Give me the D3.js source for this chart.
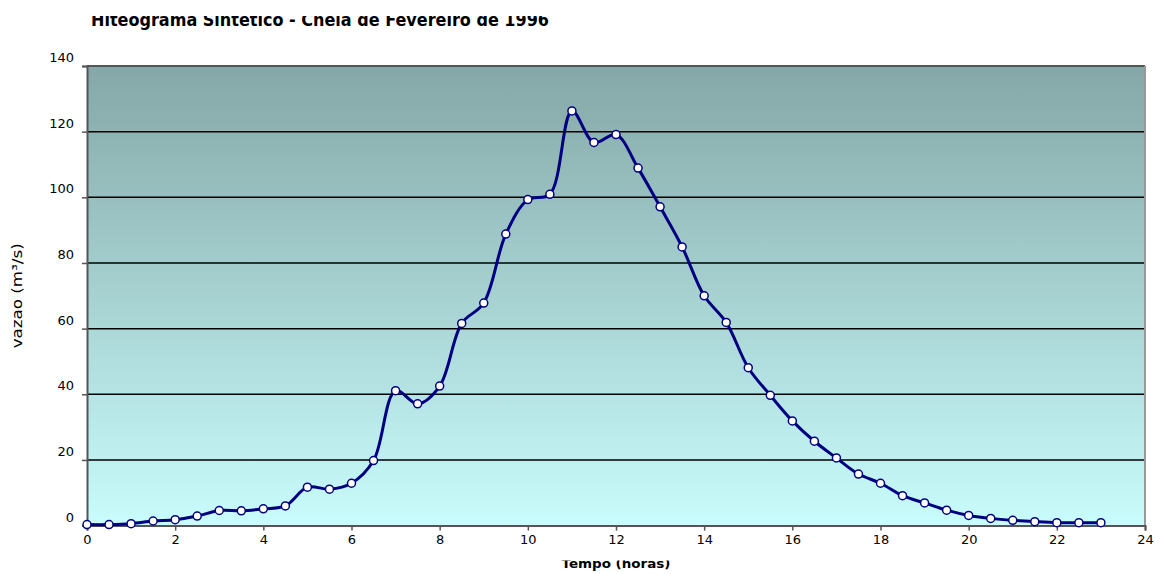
<!DOCTYPE html>
<html><head><meta charset="utf-8">
<script src="https://cdn.jsdelivr.net/npm/d3@7/dist/d3.min.js"></script>
<style>body{margin:0;background:#fff;}svg{display:block;font-family:"DejaVu Sans",Verdana,sans-serif;}</style>
</head><body>
<svg id="c" width="1155" height="574"></svg>
<script>
const times = [0,0.5,1,1.5,2,2.5,3,3.5,4,4.5,5,5.5,6,6.5,7,7.5,8,8.5,9,9.5,10,10.5,11,11.5,12,12.5,13,13.5,14,14.5,15,15.5,16,16.5,17,17.5,18,18.5,19,19.5,20,20.5,21,21.5,22,22.5,23];
const vazao = [0.3,0.3,0.6,1.4,1.8,2.9,4.6,4.5,5.1,6.0,11.7,11.1,12.9,19.8,41.1,37.1,42.5,61.6,67.8,88.8,99.3,100.9,126.3,116.7,119.1,108.9,97.1,84.9,70.0,61.9,48.1,39.7,31.9,25.7,20.6,15.7,12.9,9.1,6.9,4.7,3.1,2.2,1.6,1.2,0.9,0.9,0.9];
const xTicks = [0,2,4,6,8,10,12,14,16,18,20,22,24];
const yTicks = [0,20,40,60,80,100,120,140];
const title = "Hiteograma Sintetico - Cheia de Fevereiro de 1996";
const xTitle = "Tempo (horas)";
const yTitle = "vazao (m³/s)";

const svg = d3.select("#c");
const L=87, R=1145, T=66, B=525.6;
const x = d3.scaleLinear().domain([0,24]).range([L,R]);
const y = d3.scaleLinear().domain([0,140]).range([B,T]);

const defs = svg.append("defs");
const g = defs.append("linearGradient").attr("id","bg").attr("x1",0).attr("y1",0).attr("x2",0).attr("y2",1);
g.append("stop").attr("offset","0%").attr("stop-color","#85a7a7");
g.append("stop").attr("offset","100%").attr("stop-color","#c9fcfc");
defs.append("clipPath").attr("id","ct").append("rect").attr("x",0).attr("y",16).attr("width",1155).attr("height",40);
defs.append("clipPath").attr("id","cx").append("rect").attr("x",0).attr("y",560.5).attr("width",1155).attr("height",20);

svg.append("rect").attr("x",L).attr("y",T).attr("width",R-L).attr("height",B-T).attr("fill","url(#bg)");

// gridlines
svg.append("g").selectAll("line").data(yTicks.filter(d=>d>0&&d<140)).join("line")
  .attr("x1",L).attr("x2",R).attr("y1",d=>y(d)).attr("y2",d=>y(d))
  .attr("stroke","#000").attr("stroke-width",1.5);

// border top/right
svg.append("line").attr("x1",L).attr("x2",R).attr("y1",T).attr("y2",T).attr("stroke","#555").attr("stroke-width",2);
svg.append("line").attr("x1",R).attr("x2",R).attr("y1",T).attr("y2",B).attr("stroke","#999").attr("stroke-width",2);

// axes
const xa = svg.append("g").attr("transform",`translate(0,${B})`)
  .call(d3.axisBottom(x).tickValues(xTicks).tickSize(5).tickPadding(3).tickFormat(d3.format("d")));
const ya = svg.append("g").attr("transform",`translate(${L},0)`)
  .call(d3.axisLeft(y).tickValues(yTicks).tickSize(5).tickPadding(8).tickFormat(d3.format("d")));
[xa,ya].forEach(a=>{
  a.select(".domain").attr("stroke","#555").attr("stroke-width",2);
  a.selectAll(".tick line").attr("stroke","#555").attr("stroke-width",1.5);
  a.selectAll("text").attr("font-size",13).attr("fill","#000").attr("font-family","DejaVu Sans, sans-serif");
});
ya.selectAll(".tick text").attr("dy","-0.35em");
xa.selectAll(".tick text").attr("dy","0.8em");

// line
const line = d3.line().x((d,i)=>x(times[i])).y(d=>y(d)).curve(d3.curveCatmullRom.alpha(0.5));
svg.append("path").datum(vazao).attr("d",line).attr("fill","none").attr("stroke","#000080").attr("stroke-width",3);
svg.append("g").selectAll("circle").data(vazao).join("circle")
  .attr("cx",(d,i)=>x(times[i])).attr("cy",d=>y(d)).attr("r",4)
  .attr("fill","#fff").attr("stroke","#000080").attr("stroke-width",1.5);

// titles
svg.append("text").attr("clip-path","url(#ct)").attr("x",91).attr("y",26)
  .attr("font-size",17).attr("font-weight","bold").attr("textLength",458).attr("lengthAdjust","spacingAndGlyphs")
  .text(title);
svg.append("text").attr("clip-path","url(#cx)").attr("x",(L+R)/2).attr("y",568).attr("text-anchor","middle")
  .attr("font-size",13).attr("font-weight","bold").attr("textLength",109).attr("lengthAdjust","spacingAndGlyphs").text(xTitle);
svg.append("text").attr("transform",`translate(22,${(T+B)/2}) rotate(-90)`).attr("text-anchor","middle")
  .attr("font-size",14).attr("textLength",105).attr("lengthAdjust","spacingAndGlyphs").text(yTitle);
</script>
</body></html>
